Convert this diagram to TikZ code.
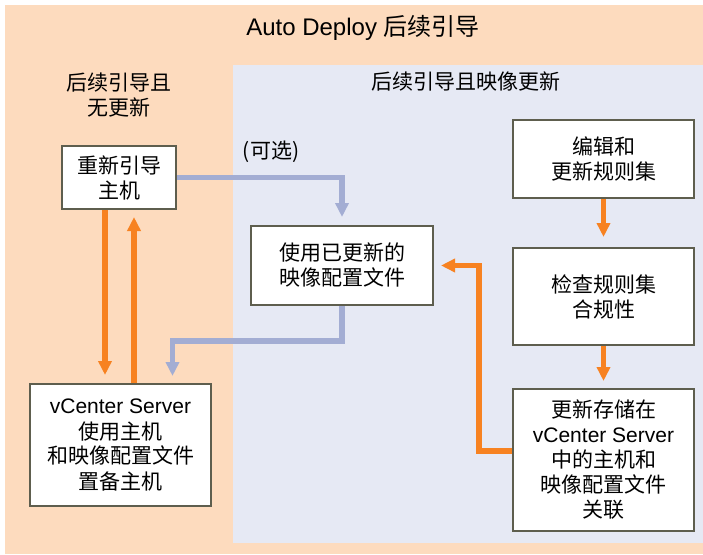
\documentclass[tikz,border=0pt]{standalone}
\usepackage{fontspec}
\setmainfont{Liberation Sans}
\newfontfamily\cjk{Noto Sans CJK SC}
\usetikzlibrary{arrows.meta}

\definecolor{peach}{RGB}{253,219,190}
\definecolor{panelblue}{RGB}{230,233,244}
\definecolor{floworange}{RGB}{247,130,33}
\definecolor{flowblue}{RGB}{163,173,211}
\definecolor{boxline}{RGB}{94,94,78}

\begin{document}
\begin{tikzpicture}[x=1pt, y=-1pt,
    box/.style={draw=boxline, line width=2pt, fill=white, align=center, inner sep=0pt,
      font=\fontsize{21}{25}\selectfont\cjk},
    label/.style={align=center, font=\fontsize{21}{25}\selectfont\cjk},
    orflow/.style={draw=floworange, line width=5.5pt, -{Triangle[width=13pt,length=14pt]}},
    blflow/.style={draw=flowblue, line width=5.5pt, -{Triangle[width=13pt,length=14pt]}}]
    \useasboundingbox (0,0) rectangle (703,554);

    % background
    \fill[peach] (5,5) rectangle (703,554);
    \fill[panelblue] (233,65) rectangle (703,543);

    \node[font=\fontsize{24}{29}\selectfont] (title) at (363,28) {Auto Deploy {\cjk 后续引导}};
    \node[label] (noupd) at (119,95) {后续引导且\\无更新};
    \node[label] (withupd) at (466,82) {后续引导且映像更新};
    \node[label] (optional) at (271,152) {(可选)};

    \node[box, minimum width=114pt, minimum height=63pt] (reboot) at (119,177.5) {重新引导\\主机};
    \node[box, minimum width=182pt, minimum height=79pt] (useprof) at (342,265.5) {使用已更新的\\映像配置文件};
    \node[box, minimum width=181pt, minimum height=78pt] (edit) at (603.5,159) {编辑和\\更新规则集};
    \node[box, minimum width=181pt, minimum height=97pt] (check) at (603.5,296.5) {检查规则集\\合规性};
    \node[box, minimum width=181pt, minimum height=142pt] (update) at (603.5,460)
      {更新存储在\\{\rmfamily vCenter Server}\\中的主机和\\映像配置文件\\关联};
    \node[box, minimum width=181pt, minimum height=122pt] (vcenter) at (120.5,445)
      {{\rmfamily vCenter Server}\\使用主机\\和映像配置文件\\置备主机};

    % no update
    \draw[orflow, shorten >=8pt] ([xshift=-14pt]reboot.south) -- ([xshift=-14pt]reboot.south |- vcenter.north);
    \draw[orflow, shorten >=7pt] ([xshift=15pt]reboot.south |- vcenter.north) -- ([xshift=15pt]reboot.south);

    % optional path
    \draw[blflow, shorten >=8pt] (reboot.east) -| (useprof.north);
    \draw[blflow, shorten >=7pt] (useprof.south) -- ++(0,35) -| ([xshift=52pt]vcenter.north);

    % rule set
    \draw[orflow, shorten >=10pt] (edit.south) -- (check.north);
    \draw[orflow, shorten >=7pt] (check.south) -- (update.north);
    \draw[orflow, shorten >=7pt] ([yshift=9pt]update.west) -- ++(-33,0) |- (useprof.east);

\end{tikzpicture}
\end{document}
